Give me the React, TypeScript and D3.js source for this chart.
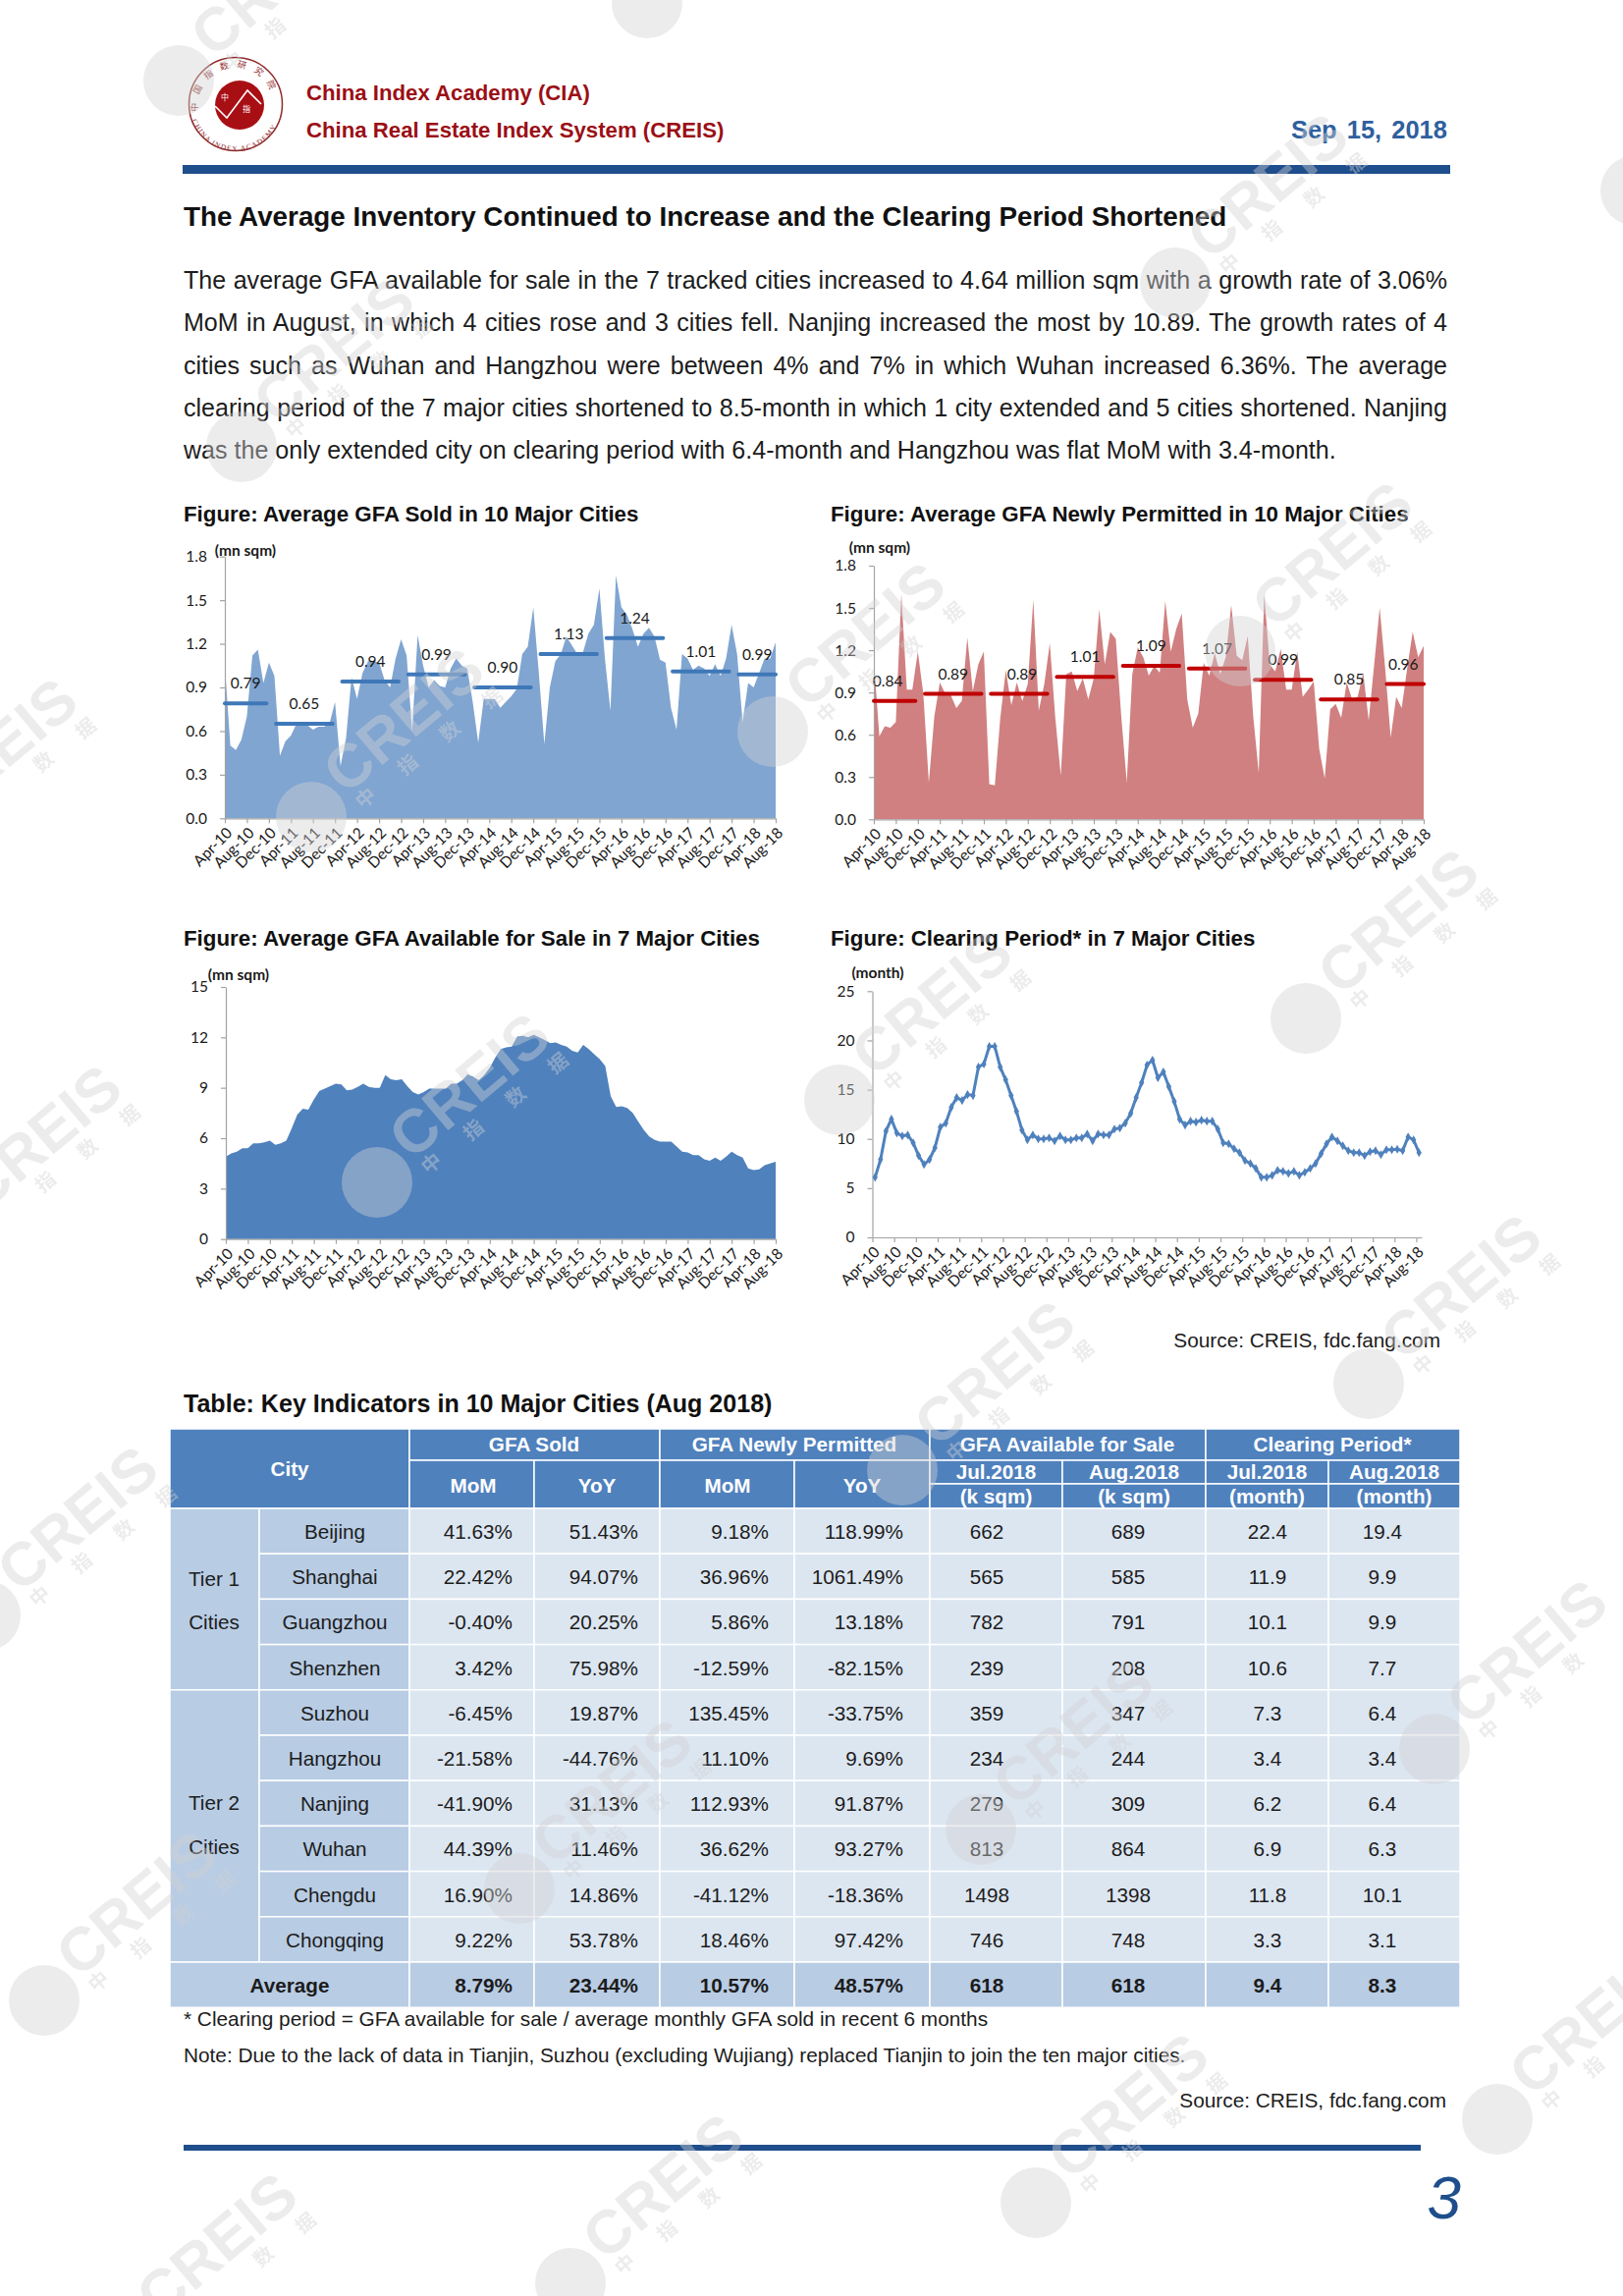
import { useEffect, useRef } from "react";
import * as d3 from "d3";

const tickLabels = [
  "Apr-10", "Aug-10", "Dec-10", "Apr-11", "Aug-11", "Dec-11", "Apr-12", "Aug-12", "Dec-12",
  "Apr-13", "Aug-13", "Dec-13", "Apr-14", "Aug-14", "Dec-14", "Apr-15", "Aug-15", "Dec-15",
  "Apr-16", "Aug-16", "Dec-16", "Apr-17", "Aug-17", "Dec-17", "Apr-18", "Aug-18",
];

const gfaSold = [
  1.05, 0.5, 0.47, 0.54, 0.7, 1.12, 1.16, 0.93, 1.07, 0.98,
  0.43, 0.53, 0.57, 0.65, 0.64, 0.64, 0.61, 0.63, 0.63, 0.65,
  0.8, 0.36, 0.55, 0.97, 0.82, 1.0, 1.08, 1.08, 1.07, 0.95,
  0.9, 1.1, 1.23, 1.12, 0.6, 1.26, 1.05, 0.9, 0.95, 0.91,
  0.9, 1.03, 1.1, 1.05, 1.03, 0.8, 0.52, 0.82, 0.82, 0.82,
  0.76, 0.8, 0.84, 0.89, 1.13, 1.18, 1.45, 1.0, 0.51, 0.9,
  1.08, 1.13, 1.25, 1.19, 1.13, 1.14, 1.27, 1.33, 1.58, 1.1,
  0.74, 1.67, 1.45, 1.4, 1.3, 1.18, 1.27, 1.31, 1.25, 1.09,
  1.07, 0.76, 0.61, 1.13, 1.1, 1.02, 1.05, 1.03, 0.98, 1.06,
  0.98, 1.1, 1.33, 1.13, 0.66, 0.93, 0.9, 1.0, 1.1, 1.1,
  1.21,
];
const gfaSoldAvg = [0.79, 0.65, 0.94, 0.99, 0.9, 1.13, 1.24, 1.01, 0.99];

const gfaPermitted = [
  1.13, 0.59, 0.66, 0.65, 0.69, 1.6, 0.92, 0.92, 1.19, 0.89,
  0.26, 0.73, 0.97, 0.89, 0.88, 0.79, 0.84, 1.29, 0.91, 1.1,
  1.19, 0.25, 0.24, 0.72, 1.06, 0.81, 0.97, 0.84, 0.96, 1.56,
  0.77, 0.96, 1.25, 0.72, 0.31, 1.03, 1.05, 0.91, 1.0, 0.85,
  1.0, 1.49, 1.1, 1.33, 1.28, 0.73, 0.26, 1.03, 1.22, 1.15,
  1.02, 1.09, 1.04, 1.55, 1.19, 1.35, 1.46, 0.85, 0.65, 0.75,
  1.11, 1.02, 1.18, 1.03, 1.15, 1.52, 1.16, 1.13, 1.3, 0.73,
  0.33, 1.6, 1.1, 1.05, 1.21, 0.92, 0.92, 1.19, 0.87, 0.92,
  0.98, 0.5, 0.29, 0.78, 0.82, 0.72, 0.97, 0.85, 0.87, 1.04,
  0.7, 1.1, 1.5, 1.07, 0.58, 0.87, 0.79, 1.07, 1.33, 1.15,
  1.23,
];
const gfaPermittedAvg = [0.84, 0.89, 0.89, 1.01, 1.09, 1.07, 0.99, 0.85, 0.96];

const gfaAvailable = [
  4.9, 5.1, 5.2, 5.4, 5.4, 5.7, 5.7, 5.75, 5.85, 5.6,
  5.7, 5.85, 6.6, 7.4, 7.75, 7.7, 8.3, 8.8, 8.95, 9.1,
  9.25, 9.2, 8.85, 8.9, 9.05, 9.25, 9.05, 9.0, 9.0, 9.75,
  9.5, 9.45, 9.5, 9.1, 8.75, 8.6, 8.75, 8.95, 8.95, 8.95,
  8.95, 9.25, 9.25, 9.45, 9.8, 9.65, 9.45, 9.75, 10.2, 10.8,
  11.3, 11.4, 11.45, 12.05, 12.1, 12.0, 12.15, 12.0, 11.85, 11.65,
  11.7, 11.55, 11.45, 11.2, 11.1, 11.55, 11.3, 11.0, 10.7, 10.3,
  8.5, 7.85, 7.9, 7.8, 7.5, 7.0, 6.5, 6.1, 5.9, 5.8,
  5.8, 5.8, 5.5, 5.2, 5.15, 5.0, 5.0, 4.75, 4.65, 4.85,
  4.65, 4.9, 5.2, 5.0, 4.85, 4.2, 4.1, 4.15, 4.4, 4.5,
  4.6,
];

const clearingPeriod = [
  6.1, 7.9, 10.8, 12.0, 10.6, 10.3, 10.4, 9.6, 8.3, 7.4,
  7.9, 9.1, 11.2, 11.6, 13.2, 14.2, 13.9, 14.5, 14.4, 17.3,
  17.6, 19.4, 19.4, 17.3, 16.0, 14.4, 12.8, 10.9, 9.9, 10.4,
  10.0, 10.0, 10.1, 9.8, 10.3, 9.9, 9.9, 10.1, 10.1, 10.5,
  9.8, 10.5, 10.4, 10.4, 11.0, 11.1, 11.6, 12.6, 14.2, 15.7,
  17.5, 18.0, 16.2, 16.8, 15.3, 13.8, 12.0, 11.4, 11.8, 11.7,
  11.9, 11.8, 11.8, 11.0, 9.6, 9.5, 9.0, 8.6, 7.8, 7.5,
  7.0, 6.1, 6.1, 6.3, 6.8, 6.7, 6.5, 6.7, 6.3, 6.6,
  7.0, 7.5, 8.5, 9.5, 10.2, 9.8, 9.3, 8.8, 8.6, 8.6,
  8.3, 8.7, 8.8, 8.4, 8.9, 8.9, 8.95, 8.8, 10.2, 9.9,
  8.6,
];

// month index where each calendar year's average starts and stops
const yearStart = [0, 9, 21, 33, 45, 57, 69, 81, 93];
const yearEnd = [8, 20, 32, 44, 56, 68, 80, 92, 100];

const paragraph = [
  "The average GFA available for sale in the 7 tracked cities increased to 4.64 million sqm with a growth rate of 3.06%",
  "MoM in August, in which 4 cities rose and 3 cities fell. Nanjing increased the most by 10.89. The growth rates of 4",
  "cities such as Wuhan and Hangzhou were between 4% and 7% in which Wuhan increased 6.36%. The average",
  "clearing period of the 7 major cities shortened to 8.5-month in which 1 city extended and 5 cities shortened. Nanjing",
];
const paragraphLast = "was the only extended city on clearing period with 6.4-month and Hangzhou was flat MoM with 3.4-month.";

const cities = ["Beijing", "Shanghai", "Guangzhou", "Shenzhen", "Suzhou", "Hangzhou", "Nanjing", "Wuhan", "Chengdu", "Chongqing"];
const soldMoM = ["41.63%", "22.42%", "-0.40%", "3.42%", "-6.45%", "-21.58%", "-41.90%", "44.39%", "16.90%", "9.22%", "8.79%"];
const soldYoY = ["51.43%", "94.07%", "20.25%", "75.98%", "19.87%", "-44.76%", "31.13%", "11.46%", "14.86%", "53.78%", "23.44%"];
const permitMoM = ["9.18%", "36.96%", "5.86%", "-12.59%", "135.45%", "11.10%", "112.93%", "36.62%", "-41.12%", "18.46%", "10.57%"];
const permitYoY = ["118.99%", "1061.49%", "13.18%", "-82.15%", "-33.75%", "9.69%", "91.87%", "93.27%", "-18.36%", "97.42%", "48.57%"];
const availJul = ["662", "565", "782", "239", "359", "234", "279", "813", "1498", "746", "618"];
const availAug = ["689", "585", "791", "208", "347", "244", "309", "864", "1398", "748", "618"];
const clearJul = ["22.4", "11.9", "10.1", "10.6", "7.3", "3.4", "6.2", "6.9", "11.8", "3.3", "9.4"];
const clearAug = ["19.4", "9.9", "9.9", "7.7", "6.4", "3.4", "6.4", "6.3", "10.1", "3.1", "8.3"];

const sans = "'Liberation Sans', Arial, sans-serif";
const chartFont = "Lato, 'Open Sans', sans-serif";

// table grid
const colX = [173, 264, 417, 544, 672, 809, 947, 1082, 1228, 1353, 1487];
const rowTop = 1536;
const rowH = 46.2;
const valueCols = [
  { vals: soldMoM, x: 522, anchor: "end" },
  { vals: soldYoY, x: 650, anchor: "end" },
  { vals: permitMoM, x: 783, anchor: "end" },
  { vals: permitYoY, x: 920, anchor: "end" },
  { vals: availJul, x: 1005, anchor: "middle" },
  { vals: availAug, x: 1149, anchor: "middle" },
  { vals: clearJul, x: 1291, anchor: "middle" },
  { vals: clearAug, x: 1408, anchor: "middle" },
];

const watermarks = [
  [182, 82], [659, 3], [1197, 288], [1666, 194], [246, 455], [787, 745], [317, 832], [1263, 663],
  [1330, 1037], [384, 1204], [855, 1120], [919, 1497], [1394, 1409], [1461, 1781], [529, 1923],
  [999, 1863], [45, 2037], [1525, 2158], [1055, 2243], [581, 2325], [127, 2385], [-52, 1257], [-15, 1645], [-97, 863],
];

type ChartCfg = {
  left: number; right: number; top: number; bottom: number;
  yMax: number; yTicks: number[]; yFormat: string;
  unit: string; unitX: number; unitY: number;
  values: number[];
  area?: string; avg?: number[]; avgColor?: string; avgDx?: number[]; line?: string;
};

const charts: ChartCfg[] = [
  {
    left: 229, right: 790, top: 566.7, bottom: 833.3, yMax: 1.8, yTicks: [0, 0.3, 0.6, 0.9, 1.2, 1.5, 1.8], yFormat: ".1f",
    unit: "(mn sqm)", unitX: 250, unitY: 561, values: gfaSold, area: "#80a5d1", avg: gfaSoldAvg, avgColor: "#3f78b8",
  },
  {
    left: 890, right: 1450, top: 576, bottom: 834.3, yMax: 1.8, yTicks: [0, 0.3, 0.6, 0.9, 1.2, 1.5, 1.8], yFormat: ".1f",
    unit: "(mn sqm)", unitX: 896, unitY: 558, values: gfaPermitted, area: "#d08080", avg: gfaPermittedAvg, avgColor: "#c00000",
    avgDx: [-7, 0, 3, 0, 0, 0, 0, 0, -2],
  },
  {
    left: 230, right: 790, top: 1005, bottom: 1261.7, yMax: 15, yTicks: [0, 3, 6, 9, 12, 15], yFormat: "d",
    unit: "(mn sqm)", unitX: 243, unitY: 993, values: gfaAvailable, area: "#4f81bd",
  },
  {
    left: 888.5, right: 1448, top: 1009.3, bottom: 1260, yMax: 25, yTicks: [0, 5, 10, 15, 20, 25], yFormat: "d",
    unit: "(month)", unitX: 894, unitY: 991, values: clearingPeriod, line: "#4f81bd",
  },
];

function drawChart(root: d3.Selection<SVGGElement, unknown, null, undefined>, c: ChartCfg) {
  // the line chart sits between ticks, the area charts on them
  const between = !!c.line;
  const x = d3.scaleLinear().domain([0, between ? 101 : 100]).range([c.left, c.right]);
  const px = (i: number) => x(between ? i + 0.5 : i);
  const y = d3.scaleLinear().domain([0, c.yMax]).range([c.bottom, c.top]);

  if (c.area) {
    const area = d3.area<number>().x((_, i) => px(i)).y0(y(0)).y1((d) => y(d));
    root.append("path").attr("d", area(c.values)).attr("fill", c.area);
  }

  const xAxis = root.append("g")
    .attr("transform", "translate(0," + c.bottom + ")")
    .call(
      d3.axisBottom(x)
        .tickValues(tickLabels.map((_, i) => i * 4))
        .tickFormat((_, i) => tickLabels[i])
        .tickSize(5)
        .tickSizeOuter(0)
    );
  xAxis.selectAll("text")
    .attr("text-anchor", "end")
    .attr("transform", "translate(4,12) rotate(-45)")
    .attr("dy", "0.35em")
    .attr("y", 0);

  const yAxis = root.append("g")
    .attr("transform", "translate(" + c.left + ",0)")
    .call(
      d3.axisLeft(y)
        .tickValues(c.yTicks)
        .tickFormat(d3.format(c.yFormat) as any)
        .tickSize(5)
        .tickPadding(13)
        .tickSizeOuter(0)
    );

  [xAxis, yAxis].forEach((a) => {
    a.attr("font-family", chartFont).attr("font-size", 15.5);
    a.selectAll("path,line").attr("stroke", "#a3a3a3").attr("stroke-width", 1.2);
    a.selectAll("text").attr("fill", "#1a1a1a");
  });

  root.append("text")
    .attr("x", c.unitX).attr("y", c.unitY + 5)
    .attr("text-anchor", "middle")
    .attr("font-family", chartFont).attr("font-size", 15.5).attr("font-weight", 700)
    .attr("fill", "#1a1a1a")
    .text(c.unit);

  if (c.line) {
    const line = d3.line<number>().x((_, i) => px(i)).y((d) => y(d));
    root.append("path").attr("d", line(c.values)).attr("fill", "none").attr("stroke", c.line).attr("stroke-width", 3);
    const diamond = d3.symbol().type(d3.symbolDiamond).size(24);
    root.append("g").selectAll("path").data(c.values).enter().append("path")
      .attr("d", diamond())
      .attr("transform", (d, i) => "translate(" + px(i) + "," + y(d) + ")")
      .attr("fill", c.line);
  }

  if (c.avg) {
    c.avg.forEach((v, i) => {
      const x1 = x(yearStart[i] + (i === 0 ? 0 : 0.3));
      const x2 = x(yearEnd[i] - (i === c.avg!.length - 1 ? 0 : 0.45));
      root.append("line")
        .attr("x1", x1).attr("x2", x2).attr("y1", y(v)).attr("y2", y(v))
        .attr("stroke", c.avgColor!).attr("stroke-width", 4).attr("stroke-linecap", "round");
      root.append("text")
        .attr("x", (x1 + x2) / 2 + (c.avgDx ? c.avgDx[i] : 0)).attr("y", y(v) - 15)
        .attr("text-anchor", "middle")
        .attr("font-family", chartFont).attr("font-size", 15.5).attr("fill", "#1a1a1a")
        .text(d3.format(".2f")(v));
    });
  }
}

function Logo() {
  return (
    <g>
      <circle cx={240} cy={106} r={47.5} fill="#fff" stroke="#8f2a2a" strokeWidth={1.5} />
      <circle cx={244} cy={107} r={25} fill="#a80f14" />
      <path d="M219 108 L231 120 L252 92 L266 106" fill="none" stroke="#fff" strokeWidth={1.6} />
      <text x={229} y={102} fontSize={8} fill="#fff" fontFamily="'Noto Sans CJK SC'" textAnchor="middle">中</text>
      <text x={251} y={114} fontSize={8} fill="#fff" fontFamily="'Noto Sans CJK SC'" textAnchor="middle">指</text>
      <defs>
        <path id="logoTop" d="M203 118 A38.5 38.5 0 1 1 277 118" />
        <path id="logoBottom" d="M200 116 A41 41 0 0 0 280 116" />
      </defs>
      <text fontSize={9} fill="#8f2a2a" fontFamily="'Noto Sans CJK SC'" letterSpacing={8}>
        <textPath href="#logoTop" startOffset="3%">中国指数研究院</textPath>
      </text>
      <text fontSize={7.5} fill="#8f2a2a" fontFamily="'Liberation Serif'" dominantBaseline="hanging" letterSpacing={0.4}>
        <textPath href="#logoBottom" startOffset="4%">CHINA INDEX ACADEMY</textPath>
      </text>
    </g>
  );
}

function Watermark({ x, y }: { x: number; y: number }) {
  const glyphs = ["中", "指", "数", "据"];
  return (
    <g transform={"translate(" + x + "," + y + ")"} fill="#d2d2d4" opacity={0.42}>
      <circle r={36} />
      <text x={97} y={-95} fontSize={62} fontWeight={700} fontFamily={sans} textAnchor="middle" dominantBaseline="middle" transform="rotate(-40 97 -95)">CREIS</text>
      {glyphs.map((t, i) => {
        const gx = 60 + i * 43;
        const gy = -14 - i * 34;
        // small marks that would run off the page are left out
        if (x + gx < 14 || x + gx > 1639 || y + gy < 14 || y + gy > 2324) return null;
        return (
          <text key={t} x={gx} y={gy} fontSize={20} fontFamily="'Noto Sans CJK SC'" fontWeight={700} textAnchor="middle" transform={"rotate(-40 " + gx + " " + gy + ")"}>{t}</text>
        );
      })}
    </g>
  );
}

function Table() {
  const head = "#4f81bd";
  const side = "#b8cce4";
  const body = "#dce6f1";
  const white = "#fff";
  const rows = d3.range(11);
  const cell = (x1: number, y1: number, x2: number, y2: number, fill: string, key: string) => (
    <rect key={key} x={x1} y={y1} width={x2 - x1} height={y2 - y1} fill={fill} stroke={white} strokeWidth={1.5} />
  );
  const h = (s: string, x: number, y: number) => (
    <text key={s + x + y} x={x} y={y} fill={white} fontWeight={700} fontSize={20.7} textAnchor="middle">{s}</text>
  );
  return (
    <g fontFamily={sans} fontSize={20.7} fill="#1c1c1c">
      {cell(colX[0], 1455, colX[2], rowTop, head, "city")}
      {[[2, 4], [4, 6], [6, 8], [8, 10]].map(([a, b]) => cell(colX[a], 1455, colX[b], 1487, head, "top" + a))}
      {d3.range(2, 6).map((i) => cell(colX[i], 1487, colX[i + 1], rowTop, head, "sub" + i))}
      {d3.range(6, 10).map((i) => cell(colX[i], 1487, colX[i + 1], 1511, head, "suba" + i))}
      {d3.range(6, 10).map((i) => cell(colX[i], 1511, colX[i + 1], rowTop, head, "subb" + i))}
      {h("City", 295, 1503)}
      {h("GFA Sold", 544, 1478)}
      {h("GFA Newly Permitted", 809, 1478)}
      {h("GFA Available for Sale", 1087, 1478)}
      {h("Clearing Period*", 1357, 1478)}
      {h("MoM", 482, 1520)}
      {h("YoY", 608, 1520)}
      {h("MoM", 741, 1520)}
      {h("YoY", 878, 1520)}
      {["Jul.2018", "Aug.2018", "Jul.2018", "Aug.2018"].map((s, i) => h(s, (colX[6 + i] + colX[7 + i]) / 2, 1505.5))}
      {["(k sqm)", "(k sqm)", "(month)", "(month)"].map((s, i) => h(s, (colX[6 + i] + colX[7 + i]) / 2, 1531))}

      {cell(colX[0], rowTop, colX[1], rowTop + 4 * rowH, side, "t1")}
      {cell(colX[0], rowTop + 4 * rowH, colX[1], rowTop + 10 * rowH, side, "t2")}
      {cities.map((c, i) => cell(colX[1], rowTop + i * rowH, colX[2], rowTop + (i + 1) * rowH, side, "c" + i))}
      {cell(colX[0], rowTop + 10 * rowH, colX[2], rowTop + 11 * rowH, side, "avg")}
      {rows.map((r) =>
        d3.range(2, 10).map((i) =>
          cell(colX[i], rowTop + r * rowH, colX[i + 1], rowTop + (r + 1) * rowH, r === 10 ? side : body, "b" + r + "-" + i)
        )
      )}
      <g textAnchor="middle">
        <text x={218} y={1615}>Tier 1</text>
        <text x={218} y={1659}>Cities</text>
        <text x={218} y={1843}>Tier 2</text>
        <text x={218} y={1888}>Cities</text>
        {cities.map((c, i) => (
          <text key={c} x={341} y={rowTop + i * rowH + 31}>{c}</text>
        ))}
        <text x={295} y={rowTop + 10 * rowH + 31} fontWeight={700}>Average</text>
      </g>
      {valueCols.map((col) =>
        col.vals.map((v, r) => (
          <text key={col.x + "-" + r} x={col.x} y={rowTop + r * rowH + 31} textAnchor={col.anchor as any} fontWeight={r === 10 ? 700 : 400}>{v}</text>
        ))
      )}
    </g>
  );
}

export default function App() {
  const svgRef = useRef<SVGSVGElement>(null);
  const chartsRef = useRef<SVGGElement>(null);

  useEffect(() => {
    if (!svgRef.current || !chartsRef.current) return;
    const root = d3.select(chartsRef.current);
    root.selectAll("*").remove();
    charts.forEach((c) => drawChart(root.append("g") as any, c));

    // justify the paragraph lines with word spacing, like the page does
    d3.select(svgRef.current).selectAll<SVGTextElement, unknown>(".just").each(function () {
      const len = this.getComputedTextLength();
      const spaces = (this.textContent || "").split(" ").length - 1;
      this.setAttribute("word-spacing", String((1287 - len) / spaces));
    });
  }, []);

  return (
    <svg
      ref={svgRef}
      width={1653}
      height={2338}
      viewBox="0 0 1653 2338"
      style={{ position: "absolute", left: 0, top: 0, background: "#fff" }}
    >
      <Logo />
      <g fontFamily={sans} fontWeight={700} fontSize={22.2} fill="#9b0f16">
        <text x={312} y={102}>China Index Academy (CIA)</text>
        <text x={312} y={140}>China Real Estate Index System (CREIS)</text>
      </g>
      <text x={1474} y={141} textAnchor="end" fontFamily={sans} fontWeight={700} fontSize={25.5} fill="#2f5f9e" wordSpacing={3}>Sep 15, 2018</text>
      <rect x={186} y={168} width={1291} height={9} fill="#1f4e8c" />

      <text x={187} y={230} fontFamily={sans} fontWeight={700} fontSize={27.8} fill="#111">The Average Inventory Continued to Increase and the Clearing Period Shortened</text>
      <g fontFamily={sans} fontSize={25.05} fill="#1c1c1c">
        {paragraph.map((l, i) => (
          <text key={i} className="just" x={187} y={294 + i * 43.3}>{l}</text>
        ))}
        <text x={187} y={467}>{paragraphLast}</text>
      </g>

      <g fontFamily={sans} fontWeight={700} fontSize={22.3} fill="#111">
        <text x={187} y={531}>Figure: Average GFA Sold in 10 Major Cities</text>
        <text x={846} y={531}>Figure: Average GFA Newly Permitted in 10 Major Cities</text>
        <text x={187} y={963}>Figure: Average GFA Available for Sale in 7 Major Cities</text>
        <text x={846} y={963}>Figure: Clearing Period* in 7 Major Cities</text>
      </g>

      <g ref={chartsRef} />

      <text x={1467} y={1372} textAnchor="end" fontFamily={sans} fontSize={20.8} fill="#1c1c1c">Source: CREIS, fdc.fang.com</text>
      <text x={187} y={1438} fontFamily={sans} fontWeight={700} fontSize={25.05} fill="#111">Table: Key Indicators in 10 Major Cities (Aug 2018)</text>

      <Table />

      <g fontFamily={sans} fontSize={20.8} fill="#1c1c1c">
        <text x={187} y={2063}>* Clearing period = GFA available for sale / average monthly GFA sold in recent 6 months</text>
        <text x={187} y={2100}>Note: Due to the lack of data in Tianjin, Suzhou (excluding Wujiang) replaced Tianjin to join the ten major cities.</text>
        <text x={1473} y={2146} textAnchor="end">Source: CREIS, fdc.fang.com</text>
      </g>
      <rect x={187} y={2184} width={1260} height={6} fill="#1f4e8c" />
      <text x={1488} y={2259} textAnchor="end" fontFamily={sans} fontStyle="italic" fontSize={62} fill="#1f4e8c">3</text>

      <g>
        {watermarks.map(([x, y], i) => (
          <Watermark key={i} x={x} y={y} />
        ))}
      </g>
    </svg>
  );
}
